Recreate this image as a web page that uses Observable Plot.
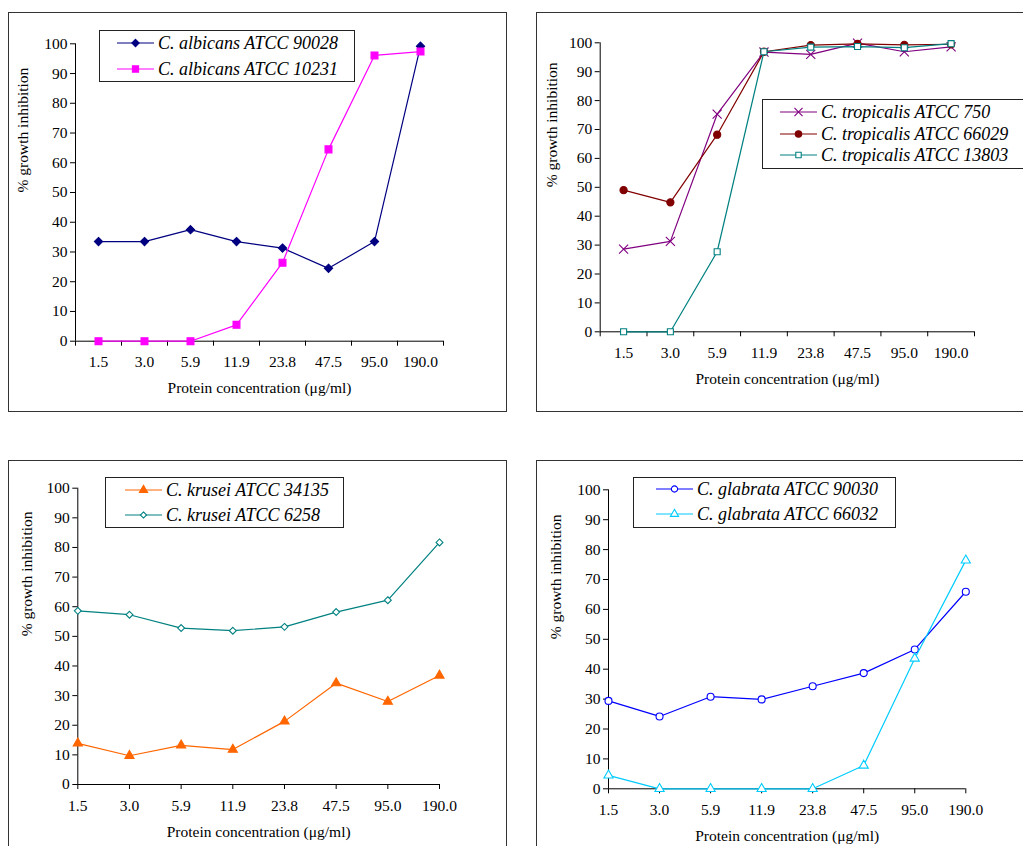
<!DOCTYPE html>
<html>
<head>
<meta charset="utf-8">
<script src="https://cdn.jsdelivr.net/npm/d3@7"></script>
<script src="https://cdn.jsdelivr.net/npm/@observablehq/plot@0.6"></script>
<style>
  body { margin: 0; background: #fff; }
  #page { position: relative; width: 1023px; height: 846px; overflow: hidden; background: #fff;
          font-family: "Liberation Serif", "Times New Roman", serif; color: #000; }
  .panel { position: absolute; border: 1px solid #333; box-sizing: border-box; background: #fff; overflow: hidden; }
  .panel svg { position: absolute; left: 0; top: 0; overflow: visible; }
  .legend { position: absolute; border: 1px solid #222; box-sizing: border-box; background: #fff; }
  .legend .row { position: absolute; height: 20px; display: flex; align-items: center; white-space: nowrap; }
  .legend .row span { font-family: "Liberation Serif", serif; font-style: italic; font-size: 18px; margin-left: 4px; line-height: 20px; }
</style>
</head>
<body>
<div id="page"></div>
<script>
// Protein concentrations tested (µg/ml)
const concentrations = ["1.5", "3.0", "5.9", "11.9", "23.8", "47.5", "95.0", "190.0"];
const yTicks = [0, 10, 20, 30, 40, 50, 60, 70, 80, 90, 100];

// % growth inhibition per strain
const albicans90028 = [33.5, 33.5, 37.5, 33.5, 31.3, 24.5, 33.5, 99.2];
const albicans10231 = [0, 0, 0, 5.5, 26.4, 64.5, 96.1, 97.4];

const tropicalis750 = [28.6, 31.3, 75.3, 96.8, 96.0, 99.9, 96.9, 98.6];
const tropicalis66029 = [49.0, 44.8, 68.2, 96.9, 99.2, 99.6, 99.3, 99.5];
const tropicalis13803 = [0, 0, 27.7, 96.9, 98.5, 98.7, 98.3, 99.7];

const krusei34135 = [13.9, 9.7, 13.2, 11.8, 21.3, 34.2, 28.0, 36.8];
const krusei6258 = [58.6, 57.3, 52.8, 51.9, 53.2, 58.2, 62.2, 81.7];

const glabrata90030 = [29.4, 24.2, 30.8, 29.9, 34.3, 38.7, 46.6, 65.9];
const glabrata66032 = [4.5, 0, 0, 0, 0, 7.8, 43.6, 76.4];

const symbols = {
  diamond2: d3.symbolDiamond2, square: d3.symbolSquare, times: d3.symbolTimes,
  circle: d3.symbolCircle, triangle: d3.symbolTriangle
};

const FONT = "'Liberation Serif', 'Times New Roman', serif";
const FS = 15.5;

const panels = [
  {
    box: {left: 8, top: 12, width: 499, height: 400},
    margin: {left: 66, right: 63, top: 30.3, bottom: 70.3},
    between: true, yTitleDx: -52,
    series: [
      {name: "C. albicans ATCC 90028", values: albicans90028, color: "#000080", fill: "#000080", symbol: "diamond2", r: 3.7},
      {name: "C. albicans ATCC 10231", values: albicans10231, color: "#FF00FF", fill: "#FF00FF", symbol: "square", r: 3.9}
    ],
    legend: {left: 99, top: 30, width: 256, height: 52, lineStart: 17, rows: [12.3, 38]}
  },
  {
    box: {left: 536, top: 12, width: 500, height: 400},
    margin: {left: 62.7, right: 61, top: 29.3, bottom: 79.7},
    between: true, yTitleDx: -48,
    series: [
      {name: "C. tropicalis ATCC 750", values: tropicalis750, color: "#800080", fill: "none", symbol: "times", r: 4.2},
      {name: "C. tropicalis ATCC 66029", values: tropicalis66029, color: "#800000", fill: "#800000", symbol: "circle", r: 3.6},
      {name: "C. tropicalis ATCC 13803", values: tropicalis13803, color: "#008080", fill: "#fff", symbol: "square", r: 3.4}
    ],
    legend: {left: 762, top: 98.7, width: 262, height: 70, lineStart: 17, rows: [12.3, 34, 55.3]}
  },
  {
    box: {left: 8, top: 460, width: 499, height: 400},
    margin: {left: 68.3, right: 67, top: 26.7, bottom: 75},
    between: false, yTitleDx: -51,
    series: [
      {name: "C. krusei ATCC 34135", values: krusei34135, color: "#FF6600", fill: "#FF6600", symbol: "triangle", r: 3.4},
      {name: "C. krusei ATCC 6258", values: krusei6258, color: "#008080", fill: "#fff", symbol: "diamond2", r: 3.1}
    ],
    legend: {left: 105, top: 477.3, width: 239, height: 51, lineStart: 19, rows: [11.7, 36.7]}
  },
  {
    box: {left: 536, top: 460, width: 500, height: 400},
    margin: {left: 71, right: 69.7, top: 28.3, bottom: 70.7},
    between: false, yTitleDx: -52.7,
    series: [
      {name: "C. glabrata ATCC 90030", values: glabrata90030, color: "#0000FF", fill: "#fff", symbol: "circle", r: 3.5},
      {name: "C. glabrata ATCC 66032", values: glabrata66032, color: "#00CCFF", fill: "#fff", symbol: "triangle", r: 3.4}
    ],
    legend: {left: 633, top: 476.7, width: 263, height: 51, lineStart: 22, rows: [11.7, 36.3]}
  }
];

const page = document.getElementById("page");
const n = concentrations.length;

for (const p of panels) {
  const box = document.createElement("div");
  box.className = "panel";
  Object.assign(box.style, {
    left: p.box.left + "px", top: p.box.top + "px",
    width: p.box.width + "px", height: p.box.height + "px"
  });
  page.appendChild(box);

  // categories sit in the middle of each band (between) or on the tick (point)
  const pos = i => p.between ? i + 0.5 : i;
  const marks = [
    Plot.ruleX([0], {stroke: "#000", strokeWidth: 1}),
    Plot.ruleY([0], {stroke: "#000", strokeWidth: 1}),
    Plot.axisY({ticks: yTicks, tickSize: 5, tickPadding: 3, fontSize: FS, label: null, tickFormat: d => String(d)})
  ];
  if (p.between) {
    marks.push(Plot.axisX({ticks: d3.range(n + 1), tickSize: 5, tickFormat: () => "", label: null}));
    marks.push(Plot.axisX({ticks: d3.range(n).map(pos), tickSize: 0, tickPadding: 15, fontSize: FS,
      tickFormat: d => concentrations[Math.round(d - 0.5)], label: null}));
  } else {
    marks.push(Plot.axisX({ticks: d3.range(n), tickSize: 5, tickPadding: 10, fontSize: FS,
      tickFormat: d => concentrations[d], label: null}));
  }
  for (const s of p.series) {
    const rows = s.values.map((v, i) => ({x: pos(i), y: v}));
    marks.push(Plot.line(rows, {x: "x", y: "y", stroke: s.color, strokeWidth: 1.2}));
    marks.push(Plot.dot(rows, {x: "x", y: "y", symbol: s.symbol, r: s.r, fill: s.fill, stroke: s.color, strokeWidth: 1.1}));
  }
  marks.push(Plot.text(["Protein concentration (\u03bcg/ml)"], {text: d => d, frameAnchor: "bottom", dy: 52, fontSize: FS, fill: "#000"}));
  marks.push(Plot.text(["% growth inhibition"], {text: d => d, frameAnchor: "left", rotate: -90, dx: p.yTitleDx, fontSize: FS, fill: "#000"}));

  const chart = Plot.plot({
    width: p.box.width - 2,
    height: p.box.height - 2,
    marginLeft: p.margin.left, marginRight: p.margin.right,
    marginTop: p.margin.top, marginBottom: p.margin.bottom,
    style: {fontFamily: FONT, fontSize: FS + "px", color: "#000", background: "transparent", overflow: "visible"},
    x: {type: "linear", domain: p.between ? [0, n] : [0, n - 1], axis: null},
    y: {type: "linear", domain: [0, 100], axis: null},
    marks
  });
  box.appendChild(chart);

  // legend box
  const L = p.legend;
  const lg = document.createElement("div");
  lg.className = "legend";
  Object.assign(lg.style, {left: L.left + "px", top: L.top + "px", width: L.width + "px", height: L.height + "px"});
  p.series.forEach((s, k) => {
    const row = document.createElement("div");
    row.className = "row";
    row.style.left = L.lineStart + "px";
    row.style.top = (L.rows[k] - 10) + "px";
    const sw = d3.create("svg").attr("width", 37).attr("height", 20);
    sw.append("line").attr("x1", 0).attr("x2", 37).attr("y1", 10).attr("y2", 10)
      .attr("stroke", s.color).attr("stroke-width", 1.2);
    sw.append("path").attr("transform", "translate(18.5,10)")
      .attr("d", d3.symbol(symbols[s.symbol], Math.PI * s.r * s.r * 0.8)())
      .attr("fill", s.fill).attr("stroke", s.color).attr("stroke-width", 1.1);
    row.appendChild(sw.node());
    const t = document.createElement("span");
    t.textContent = s.name;
    row.appendChild(t);
    lg.appendChild(row);
  });
  page.appendChild(lg);
}
</script>
</body>
</html>
